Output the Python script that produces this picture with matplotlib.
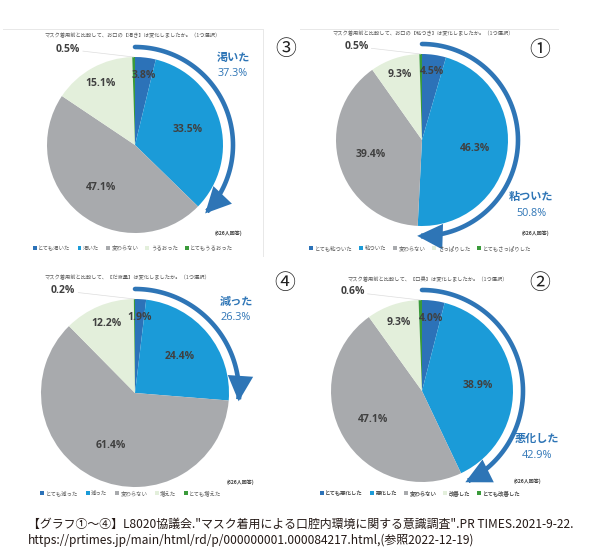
import numpy as np
import matplotlib
matplotlib.use('Agg')
import matplotlib.pyplot as plt
from matplotlib.patches import FancyArrowPatch, Patch
from matplotlib.path import Path

W, H = 600, 558
JP = ['Noto Sans CJK JP', 'DejaVu Sans']
NUM = ['Open Sans', 'Noto Sans CJK JP', 'DejaVu Sans']

slice_colors = ['#2C72B8', '#1B9BD8', '#A8AAAD', '#E3EFDB', '#3A9A3A']
arrow_color = '#2E75B6'

# data (%), one list per question
kawaki_vals = [3.8, 33.5, 47.1, 15.1, 0.5]
kawaki_labels = ['とても渇いた', '渇いた', '変わらない', 'うるおった', 'とてもうるおった']
nebaki_vals = [4.5, 46.3, 39.4, 9.3, 0.5]
nebaki_labels = ['とても粘ついた', '粘ついた', '変わらない', 'さっぱりした', 'とてもさっぱりした']
daeki_vals = [1.9, 24.4, 61.4, 12.2, 0.2]
daeki_labels = ['とても減った', '減った', '変わらない', '増えた', 'とても増えた']
koshu_vals = [4.0, 38.9, 47.1, 9.3, 0.6]
koshu_labels = ['とても悪化した', '悪化した', '変わらない', '改善した', 'とても改善した']

titles = [
    'マスク着用前と比較して、お口の【渇き】は変化しましたか。（1つ選択）',
    'マスク着用前と比較して、お口の【粘つき】は変化しましたか。（1つ選択）',
    'マスク着用前と比較して、【だ液量】は変化しましたか。（1つ選択）',
    'マスク着用前と比較して、【口臭】は変化しましたか。（1つ選択）',
]
numbers = ['③', '①', '④', '②']
n_answers = '(626人回答)'

source_1 = '【グラフ①～④】L8020協議会."マスク着用による口腔内環境に関する意識調査".PR TIMES.2021-9-22.'
source_2 = 'https://prtimes.jp/main/html/rd/p/000000001.000084217.html,(参照2022-12-19)'


def Y(y):
    return H - y


def draw_panel(ax, vals, labels, title, num, cx, cy, r, title_xy, num_xy,
               note_xy, arrow_xy, legend_xy, colspace):
    vals = np.array(vals, dtype=float)
    total = vals.sum()
    ax.pie(vals, colors=slice_colors, startangle=90, counterclock=False,
           center=(cx, Y(cy)), radius=r, wedgeprops=dict(linewidth=0))

    cum = np.concatenate([[0], np.cumsum(vals)]) / total * 360
    for i, v in enumerate(vals):
        mid = np.radians((cum[i] + cum[i + 1]) / 2)
        txt = f'{v:.1f}%'
        if v < 1:
            a = np.radians(-35)
            d = r * 1.33
            lx, ly = cx + d * np.sin(a), Y(cy) + d * np.cos(a)
            ax.plot([lx + 15, cx + r * np.sin(mid)], [ly - 2, Y(cy) + r * np.cos(mid)],
                    color='#DDDDDD', lw=0.5)
            ax.text(lx, ly, txt, ha='center', va='center', fontsize=7.5,
                    fontweight='bold', color='#404040', family=NUM)
            continue
        frac = 0.8 if v < 20 else 0.62
        ax.text(cx + r * frac * np.sin(mid), Y(cy) + r * frac * np.cos(mid), txt,
                ha='center', va='center', fontsize=7.5, fontweight='bold',
                color='#404040', family=NUM)

    # arrow around the "worse" part (first two slices)
    R = r + 10
    th = np.radians(np.linspace(0, cum[2], 80))
    verts = np.column_stack([cx + R * np.sin(th), Y(cy) + R * np.cos(th)])
    arr = FancyArrowPatch(path=Path(verts), arrowstyle='-|>,head_length=13,head_width=6.5',
                          color=arrow_color, lw=3.3, mutation_scale=1, joinstyle='miter')
    ax.add_patch(arr)
    share = vals[0] + vals[1]
    ax.text(arrow_xy[0], Y(arrow_xy[1]), labels[1], ha='center', va='center',
            fontsize=8, fontweight='bold', color=arrow_color, family=JP)
    ax.text(arrow_xy[0], Y(arrow_xy[1] + 17), f'{share:.1f}%', ha='center', va='center',
            fontsize=7.8, color=arrow_color, family=NUM)

    ax.text(title_xy[0], Y(title_xy[1]), title, ha='center', va='center',
            fontsize=3.8, color='#595959', family=JP)
    ax.text(num_xy[0], Y(num_xy[1]), num, ha='center', va='center',
            fontsize=15, color='#222222', family=JP)
    ax.text(note_xy[0], Y(note_xy[1]), n_answers, ha='center', va='center',
            fontsize=3.6, fontweight='bold', color='#404040', family=JP)

    handles = [Patch(facecolor=c, edgecolor='none') for c in slice_colors]
    leg = ax.legend(handles, labels, loc='center', bbox_to_anchor=(legend_xy[0], Y(legend_xy[1])),
                    bbox_transform=ax.transData, ncol=5, frameon=False,
                    handlelength=0.7, handleheight=0.7, handletextpad=0.3,
                    columnspacing=colspace, prop=dict(family=JP, size=3.9),
                    labelcolor='#595959')
    ax.add_artist(leg)


fig = plt.figure(figsize=(6, 5.58), dpi=100)
ax = fig.add_axes([0, 0, 1, 1])

draw_panel(ax, kawaki_vals, kawaki_labels, titles[0], numbers[0], 135, 145, 88,
           (133, 35), (286, 49), (228, 233), (233, 57), (133, 248), 1.3)
draw_panel(ax, nebaki_vals, nebaki_labels, titles[1], numbers[1], 422, 140, 86,
           (423, 34), (540, 50), (535, 233), (531, 196), (420, 248), 1.3)
draw_panel(ax, daeki_vals, daeki_labels, titles[2], numbers[2], 135, 393, 94,
           (127, 278), (285, 283), (240, 482), (236, 301), (131, 493), 1.4)
draw_panel(ax, koshu_vals, koshu_labels, titles[3], numbers[3], 422, 391, 91,
           (428, 279), (540, 283), (527, 481), (537, 438), (420, 493), 1.3)

# faint panel frames
ax.plot([3, 263], [Y(29), Y(29)], color='#E8E8E8', lw=0.7)
ax.plot([263, 263], [Y(29), Y(256)], color='#E8E8E8', lw=0.7)
ax.plot([300, 558], [Y(29), Y(29)], color='#E8E8E8', lw=0.7)

ax.text(28, Y(524), source_1, ha='left', va='center', fontsize=8.6,
        color='#231815', family=JP)
ax.text(28, Y(540), source_2, ha='left', va='center', fontsize=8.6,
        color='#231815', family=JP)

ax.set_xlim(0, W)
ax.set_ylim(0, H)
ax.set_aspect('auto')
ax.axis('off')

fig.savefig('out.png', dpi=100, facecolor='white')
